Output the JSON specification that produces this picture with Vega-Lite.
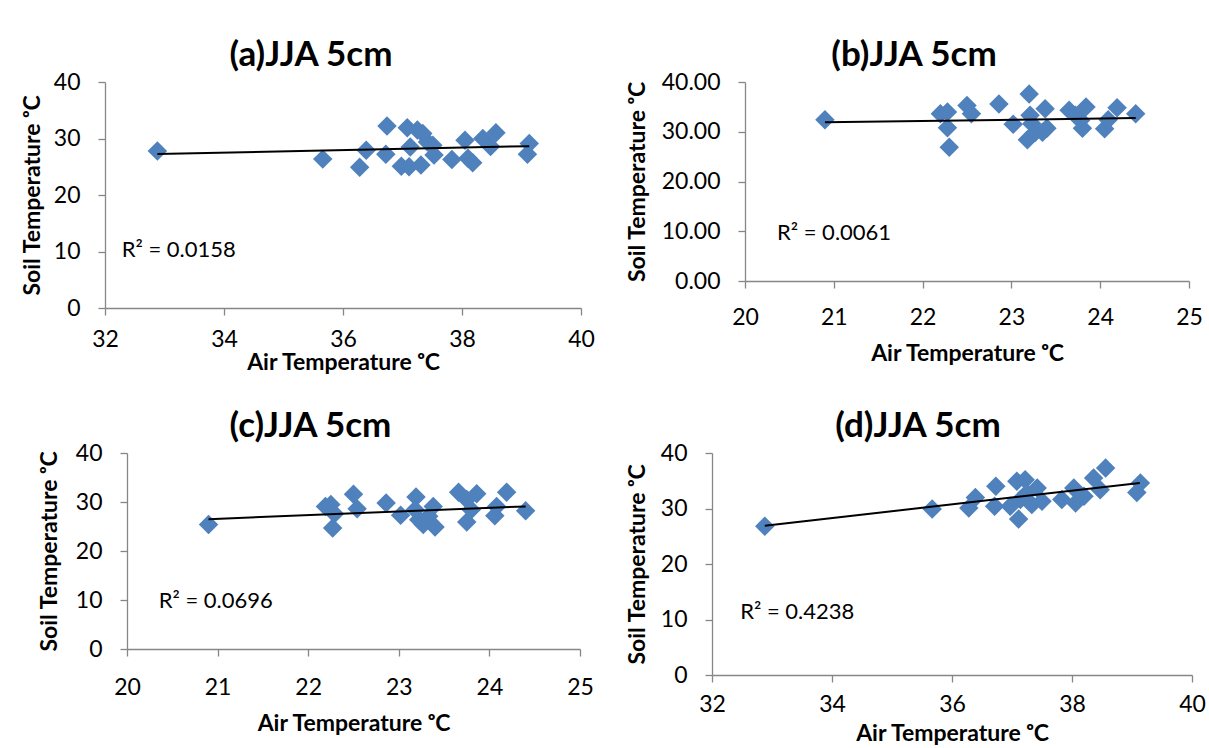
{
  "$schema": "https://vega.github.io/schema/vega-lite/v6.json",
  "padding": {"left": 21, "top": 38, "right": 0, "bottom": 0},
  "background": "white",
  "datasets": {
    "pa": [
      {"air": 32.88, "soil": 27.8}, {"air": 35.66, "soil": 26.35}, {"air": 36.28, "soil": 24.9}, {"air": 36.39, "soil": 27.9},
      {"air": 36.72, "soil": 27.2}, {"air": 36.74, "soil": 32.2}, {"air": 36.98, "soil": 25.1}, {"air": 37.08, "soil": 31.9},
      {"air": 37.11, "soil": 25.0}, {"air": 37.13, "soil": 28.5}, {"air": 37.25, "soil": 31.5}, {"air": 37.31, "soil": 25.3},
      {"air": 37.34, "soil": 30.9}, {"air": 37.42, "soil": 29.4}, {"air": 37.51, "soil": 28.8}, {"air": 37.53, "soil": 27.1},
      {"air": 37.83, "soil": 26.3}, {"air": 38.05, "soil": 29.7}, {"air": 38.1, "soil": 26.5}, {"air": 38.18, "soil": 25.7},
      {"air": 38.35, "soil": 30.0}, {"air": 38.48, "soil": 28.6}, {"air": 38.57, "soil": 31.0}, {"air": 39.13, "soil": 29.1},
      {"air": 39.1, "soil": 27.2}
    ],
    "ta": [{"air": 32.88, "soil": 27.24}, {"air": 39.13, "soil": 28.65}],
    "ra": [{"label": "R² = 0.0158", "air": 32.28, "soil": 10.3}],
    "pb": [
      {"air": 20.9, "soil": 32.4}, {"air": 22.2, "soil": 33.6}, {"air": 22.28, "soil": 33.96}, {"air": 22.28, "soil": 30.8},
      {"air": 22.3, "soil": 26.9}, {"air": 22.5, "soil": 35.3}, {"air": 22.55, "soil": 33.6}, {"air": 22.86, "soil": 35.6},
      {"air": 23.02, "soil": 31.5}, {"air": 23.2, "soil": 37.6}, {"air": 23.18, "soil": 28.4}, {"air": 23.21, "soil": 33.3},
      {"air": 23.23, "soil": 31.6}, {"air": 23.27, "soil": 29.9}, {"air": 23.35, "soil": 29.9}, {"air": 23.38, "soil": 34.6},
      {"air": 23.4, "soil": 30.7}, {"air": 23.65, "soil": 34.3}, {"air": 23.72, "soil": 33.3}, {"air": 23.78, "soil": 32.3},
      {"air": 23.8, "soil": 30.7}, {"air": 23.84, "soil": 35.0}, {"air": 24.05, "soil": 30.6}, {"air": 24.09, "soil": 32.4},
      {"air": 24.19, "soil": 34.8}, {"air": 24.4, "soil": 33.6}
    ],
    "tb": [{"air": 20.9, "soil": 31.9}, {"air": 24.4, "soil": 32.75}],
    "rb": [{"label": "R² = 0.0061", "air": 20.36, "soil": 9.6}],
    "pc": [
      {"air": 20.9, "soil": 25.4}, {"air": 22.19, "soil": 29.1}, {"air": 22.25, "soil": 29.5}, {"air": 22.29, "soil": 27.6},
      {"air": 22.27, "soil": 24.7}, {"air": 22.5, "soil": 31.6}, {"air": 22.54, "soil": 28.6}, {"air": 22.86, "soil": 29.8},
      {"air": 23.02, "soil": 27.3}, {"air": 23.19, "soil": 31.0}, {"air": 23.18, "soil": 28.4}, {"air": 23.22, "soil": 26.4},
      {"air": 23.27, "soil": 25.4}, {"air": 23.33, "soil": 27.1}, {"air": 23.38, "soil": 29.1}, {"air": 23.4, "soil": 24.9},
      {"air": 23.66, "soil": 32.0}, {"air": 23.75, "soil": 30.5}, {"air": 23.75, "soil": 25.9}, {"air": 23.8, "soil": 28.4},
      {"air": 23.86, "soil": 31.7}, {"air": 24.06, "soil": 27.2}, {"air": 24.08, "soil": 29.1}, {"air": 24.19, "soil": 32.0},
      {"air": 24.4, "soil": 28.2}
    ],
    "tc": [{"air": 20.9, "soil": 26.5}, {"air": 24.4, "soil": 29.1}],
    "rc": [{"label": "R² = 0.0696", "air": 20.35, "soil": 9.85}],
    "pd": [
      {"air": 32.88, "soil": 26.8}, {"air": 35.67, "soil": 29.9}, {"air": 36.28, "soil": 30.1}, {"air": 36.39, "soil": 32.0},
      {"air": 36.71, "soil": 30.4}, {"air": 36.73, "soil": 34.0}, {"air": 36.97, "soil": 30.4}, {"air": 37.08, "soil": 34.9},
      {"air": 37.11, "soil": 28.1}, {"air": 37.14, "soil": 31.6}, {"air": 37.22, "soil": 35.2}, {"air": 37.25, "soil": 32.8},
      {"air": 37.33, "soil": 30.7}, {"air": 37.42, "soil": 33.7}, {"air": 37.5, "soil": 31.3}, {"air": 37.83, "soil": 31.6},
      {"air": 38.03, "soil": 33.7}, {"air": 38.06, "soil": 31.0}, {"air": 38.2, "soil": 32.2}, {"air": 38.36, "soil": 35.5},
      {"air": 38.47, "soil": 33.4}, {"air": 38.56, "soil": 37.3}, {"air": 39.08, "soil": 32.9}, {"air": 39.14, "soil": 34.6}
    ],
    "td": [{"air": 32.88, "soil": 26.9}, {"air": 39.13, "soil": 34.6}],
    "rd": [{"label": "R² = 0.4238", "air": 32.47, "soil": 11.4}]
  },
  "columns": 2,
  "align": {"row": "all", "column": "none"},
  "spacing": {"row": 35, "column": 31},
  "concat": [
    {
      "width": 476, "height": 226,
      "title": {"text": "(a)JJA 5cm", "dx": -32},
      "layer": [
        {
          "data": {"name": "pa"},
          "mark": {"type": "point", "shape": "diamond", "filled": true, "size": 380, "color": "#4F81BD", "opacity": 1},
          "encoding": {
            "x": {"field": "air", "type": "quantitative", "scale": {"domain": [32, 40], "nice": false, "zero": false},
                  "axis": {"values": [32, 34, 36, 38, 40], "format": "d", "title": "Air Temperature ᵒC", "labelPadding": 13, "titlePadding": 0}},
            "y": {"field": "soil", "type": "quantitative", "scale": {"domain": [0, 40], "nice": false},
                  "axis": {"values": [0, 10, 20, 30, 40], "format": "d", "title": "Soil Temperature ᵒC", "labelPadding": 18, "titlePadding": 9}}
          }
        },
        {
          "data": {"name": "ta"},
          "mark": {"type": "line", "color": "black", "strokeWidth": 2},
          "encoding": {"x": {"field": "air", "type": "quantitative"}, "y": {"field": "soil", "type": "quantitative"}}
        },
        {
          "data": {"name": "ra"},
          "mark": {"type": "text", "align": "left", "baseline": "middle", "fontSize": 22, "color": "black"},
          "encoding": {"x": {"field": "air", "type": "quantitative"}, "y": {"field": "soil", "type": "quantitative"}, "text": {"field": "label"}}
        }
      ]
    },
    {
      "width": 444, "height": 199,
      "title": {"text": "(b)JJA 5cm", "dx": -53},
      "layer": [
        {
          "data": {"name": "pb"},
          "mark": {"type": "point", "shape": "diamond", "filled": true, "size": 380, "color": "#4F81BD", "opacity": 1},
          "encoding": {
            "x": {"field": "air", "type": "quantitative", "scale": {"domain": [20, 25], "nice": false, "zero": false},
                  "axis": {"values": [20, 21, 22, 23, 24, 25], "format": "d", "title": "Air Temperature ᵒC", "labelPadding": 18, "titlePadding": 13}},
            "y": {"field": "soil", "type": "quantitative", "scale": {"domain": [0, 40], "nice": false},
                  "axis": {"values": [0, 10, 20, 30, 40], "format": ".2f", "title": "Soil Temperature ᵒC", "labelPadding": 18, "titlePadding": 12}}
          }
        },
        {
          "data": {"name": "tb"},
          "mark": {"type": "line", "color": "black", "strokeWidth": 2},
          "encoding": {"x": {"field": "air", "type": "quantitative"}, "y": {"field": "soil", "type": "quantitative"}}
        },
        {
          "data": {"name": "rb"},
          "mark": {"type": "text", "align": "left", "baseline": "middle", "fontSize": 22, "color": "black"},
          "encoding": {"x": {"field": "air", "type": "quantitative"}, "y": {"field": "soil", "type": "quantitative"}, "text": {"field": "label"}}
        }
      ]
    },
    {
      "width": 475, "height": 196,
      "title": {"text": "(c)JJA 5cm", "dx": -32},
      "layer": [
        {
          "data": {"name": "pc"},
          "mark": {"type": "point", "shape": "diamond", "filled": true, "size": 380, "color": "#4F81BD", "opacity": 1},
          "encoding": {
            "x": {"field": "air", "type": "quantitative", "scale": {"domain": [20, 25], "nice": false, "zero": false, "range": [22, 475]},
                  "axis": {"values": [20, 21, 22, 23, 24, 25], "format": "d", "title": "Air Temperature ᵒC", "labelPadding": 20, "titlePadding": 13}},
            "y": {"field": "soil", "type": "quantitative", "scale": {"domain": [0, 40], "nice": false},
                  "axis": {"values": [0, 10, 20, 30, 40], "format": "d", "title": "Soil Temperature ᵒC", "labelPadding": 18, "titlePadding": 14, "offset": -22}}
          }
        },
        {
          "data": {"name": "tc"},
          "mark": {"type": "line", "color": "black", "strokeWidth": 2},
          "encoding": {"x": {"field": "air", "type": "quantitative"}, "y": {"field": "soil", "type": "quantitative"}}
        },
        {
          "data": {"name": "rc"},
          "mark": {"type": "text", "align": "left", "baseline": "middle", "fontSize": 22, "color": "black"},
          "encoding": {"x": {"field": "air", "type": "quantitative"}, "y": {"field": "soil", "type": "quantitative"}, "text": {"field": "label"}}
        }
      ]
    },
    {
      "width": 480, "height": 222,
      "title": {"text": "(d)JJA 5cm", "dx": -34},
      "layer": [
        {
          "data": {"name": "pd"},
          "mark": {"type": "point", "shape": "diamond", "filled": true, "size": 380, "color": "#4F81BD", "opacity": 1},
          "encoding": {
            "x": {"field": "air", "type": "quantitative", "scale": {"domain": [32, 40], "nice": false, "zero": false},
                  "axis": {"values": [32, 34, 36, 38, 40], "format": "d", "title": "Air Temperature ᵒC", "labelPadding": 11, "titlePadding": 6}},
            "y": {"field": "soil", "type": "quantitative", "scale": {"domain": [0, 40], "nice": false},
                  "axis": {"values": [0, 10, 20, 30, 40], "format": "d", "title": "Soil Temperature ᵒC", "labelPadding": 18, "titlePadding": 11}}
          }
        },
        {
          "data": {"name": "td"},
          "mark": {"type": "line", "color": "black", "strokeWidth": 2},
          "encoding": {"x": {"field": "air", "type": "quantitative"}, "y": {"field": "soil", "type": "quantitative"}}
        },
        {
          "data": {"name": "rd"},
          "mark": {"type": "text", "align": "left", "baseline": "middle", "fontSize": 22, "color": "black"},
          "encoding": {"x": {"field": "air", "type": "quantitative"}, "y": {"field": "soil", "type": "quantitative"}, "text": {"field": "label"}}
        }
      ]
    }
  ],
  "config": {
    "font": "Lato",
    "view": {"stroke": null},
    "axis": {
      "grid": false, "domainColor": "#868686", "tickColor": "#868686", "tickSize": 7,
      "domainWidth": 1.3, "tickWidth": 1.3,
      "labelFont": "Lato", "labelFontSize": 23, "labelColor": "#000000", "labelFlush": false,
      "titleFont": "Lato", "titleFontSize": 23, "titleFontWeight": "bold", "titleColor": "#000000"
    },
    "title": {"font": "Lato", "fontSize": 35, "fontWeight": "bold", "color": "#000000", "offset": -2, "frame": "group", "anchor": "middle"}
  }
}
